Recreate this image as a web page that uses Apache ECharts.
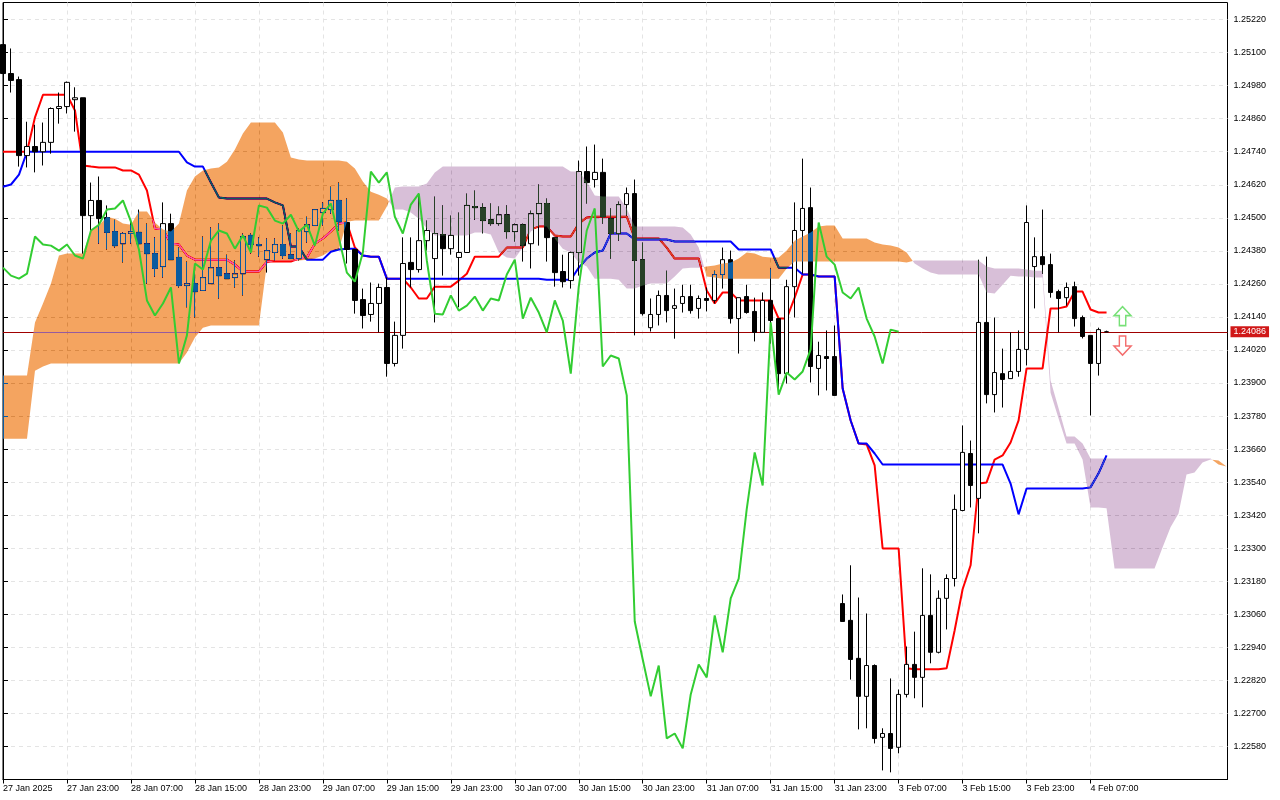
<!DOCTYPE html>
<html><head><meta charset="utf-8">
<style>html,body{margin:0;padding:0;background:#fff}#c{width:1280px;height:800px}</style>
<script src="https://cdn.jsdelivr.net/npm/echarts@6/dist/echarts.min.js"></script>
</head><body><div id="c"></div>
<script>
const timeLabels=['27 Jan 2025','27 Jan 23:00','28 Jan 07:00','28 Jan 15:00','28 Jan 23:00','29 Jan 07:00','29 Jan 15:00','29 Jan 23:00','30 Jan 07:00','30 Jan 15:00','30 Jan 23:00','31 Jan 07:00','31 Jan 15:00','31 Jan 23:00','3 Feb 07:00','3 Feb 15:00','3 Feb 23:00','4 Feb 07:00'];
const priceTicks=[1.2258,1.2270,1.2282,1.2294,1.2306,1.2318,1.2330,1.2342,1.2354,1.2366,1.2378,1.2390,1.2402,1.2414,1.2426,1.2438,1.2450,1.2462,1.2474,1.2486,1.2498,1.2510,1.2522];
const lastPrice=1.24086;
const opens=[1.25129,1.25024,1.25002,1.24726,1.24759,1.24740,1.24774,1.24897,1.24904,1.24929,
1.24936,1.24508,1.24563,1.24501,1.24450,1.24406,1.24443,1.24447,1.24406,1.24370,
1.24323,1.24479,1.24356,1.24254,1.24261,1.24236,1.24261,1.24319,1.24297,1.24283,
1.24297,1.24436,1.24403,1.24348,1.24374,1.24403,1.24366,1.24352,1.24450,1.24472,
1.24519,1.24530,1.24563,1.24483,1.24385,1.24203,1.24149,1.24189,1.24247,1.23971,
1.24073,1.24338,1.24312,1.24417,1.24352,1.24439,1.24388,1.24356,1.24374,1.24541,
1.24537,1.24493,1.24479,1.24511,1.24450,1.24475,1.24406,1.24515,1.24552,1.24428,
1.24305,1.24272,1.24374,1.24668,1.24639,1.24665,1.24497,1.24443,1.24548,1.24588,
1.24348,1.24101,1.24149,1.24218,1.24171,1.24189,1.24214,1.24171,1.24207,1.24200,
1.24294,1.24348,1.24134,1.24214,1.24160,1.24084,1.24200,1.24134,1.23934,1.24250,
1.24454,1.24537,1.23953,1.23996,1.23996,1.23099,1.23038,1.22900,1.22762,1.22874,
1.22613,1.22627,1.22577,1.22769,1.22878,1.22831,1.23056,1.22922,1.23118,1.23190,
1.23437,1.23644,1.23481,1.24120,1.23858,1.23934,1.23916,1.23942,1.24022,1.24323,
1.24359,1.24330,1.24232,1.24210,1.24250,1.24138,1.24073,1.23971,1.24086];
const closes=[1.25024,1.24999,1.24726,1.24759,1.24740,1.24774,1.24897,1.24904,1.24992,1.24936,
1.24508,1.24563,1.24497,1.24447,1.24399,1.24443,1.24450,1.24406,1.24370,1.24316,
1.24479,1.24348,1.24254,1.24261,1.24232,1.24283,1.24319,1.24290,1.24279,1.24297,
1.24432,1.24403,1.24399,1.24381,1.24403,1.24363,1.24352,1.24454,1.24475,1.24530,
1.24534,1.24563,1.24486,1.24385,1.24200,1.24145,1.24189,1.24247,1.23971,1.24073,
1.24334,1.24312,1.24417,1.24454,1.24443,1.24388,1.24436,1.24374,1.24545,1.24537,
1.24490,1.24479,1.24511,1.24450,1.24475,1.24399,1.24515,1.24552,1.24428,1.24301,
1.24268,1.24374,1.24668,1.24628,1.24665,1.24504,1.24443,1.24548,1.24588,1.24345,
1.24152,1.24149,1.24218,1.24163,1.24181,1.24214,1.24163,1.24207,1.24200,1.24294,
1.24348,1.24134,1.24210,1.24156,1.24084,1.24200,1.24127,1.23934,1.24250,1.24454,
1.24534,1.23960,1.24000,1.23989,1.23855,1.23034,1.22896,1.22762,1.22874,1.22609,
1.22627,1.22573,1.22769,1.22878,1.22831,1.23056,1.22922,1.23118,1.23190,1.23441,
1.23648,1.23528,1.24120,1.23858,1.23938,1.23913,1.23942,1.24022,1.24483,1.24359,
1.24330,1.24229,1.24207,1.24247,1.24134,1.24069,1.23971,1.24094,1.24086];
const highs=[1.25129,1.25115,1.25013,1.24849,1.24838,1.24846,1.24901,1.24955,1.24995,1.24974,
1.24936,1.24628,1.24650,1.24545,1.24493,1.24447,1.24490,1.24530,1.24479,1.24429,
1.24556,1.24515,1.24392,1.24341,1.24301,1.24432,1.24465,1.24479,1.24366,1.24345,
1.24443,1.24443,1.24429,1.24425,1.24425,1.24472,1.24443,1.24461,1.24504,1.24530,
1.24556,1.24613,1.24628,1.24570,1.24381,1.24243,1.24265,1.24261,1.24283,1.24123,
1.24429,1.24429,1.24588,1.24490,1.24577,1.24545,1.24508,1.24519,1.24588,1.24599,
1.24552,1.24552,1.24541,1.24545,1.24479,1.24479,1.24526,1.24621,1.24570,1.24428,
1.24366,1.24377,1.24708,1.24759,1.24766,1.24715,1.24534,1.24559,1.24610,1.24639,
1.24410,1.24207,1.24236,1.24308,1.24243,1.24257,1.24257,1.24218,1.24247,1.24308,
1.24392,1.24381,1.24210,1.24257,1.24210,1.24229,1.24316,1.24134,1.24275,1.24556,
1.24715,1.24610,1.24050,1.24091,1.24109,1.23132,1.23238,1.23121,1.23063,1.22878,
1.22646,1.22827,1.22787,1.22943,1.22997,1.23227,1.23205,1.23147,1.23205,1.23495,
1.23746,1.23691,1.24348,1.24359,1.24138,1.24025,1.24084,1.24091,1.24545,1.24429,
1.24530,1.24370,1.24239,1.24265,1.24268,1.24145,1.24073,1.24101,1.24090];
const lows=[1.25024,1.24955,1.24686,1.24683,1.24665,1.24690,1.24733,1.24842,1.24879,1.24813,
1.24370,1.24454,1.24406,1.24385,1.24392,1.24338,1.24406,1.24392,1.24261,1.24286,
1.24283,1.24348,1.24247,1.24175,1.24138,1.24236,1.24261,1.24207,1.24279,1.24247,
1.24218,1.24370,1.24359,1.24301,1.24345,1.24352,1.24352,1.24345,1.24410,1.24472,
1.24472,1.24515,1.24454,1.24334,1.24152,1.24098,1.24123,1.24084,1.23923,1.23960,
1.24025,1.24247,1.24301,1.24381,1.24120,1.24290,1.24366,1.24175,1.24374,1.24493,
1.24443,1.24472,1.24472,1.24425,1.24414,1.24341,1.24316,1.24399,1.24341,1.24250,
1.24247,1.24243,1.24290,1.24552,1.24610,1.24479,1.24352,1.24417,1.24508,1.24073,
1.24145,1.24087,1.24109,1.24120,1.24061,1.24156,1.24152,1.24134,1.24160,1.24189,
1.24243,1.24116,1.24007,1.24152,1.24051,1.24084,1.24043,1.23862,1.23898,1.24138,
1.24297,1.23902,1.23855,1.23873,1.23855,1.23034,1.22823,1.22642,1.22646,1.22591,
1.22493,1.22486,1.22555,1.22758,1.22755,1.22722,1.22882,1.22918,1.23005,1.23161,
1.23434,1.23448,1.23354,1.23826,1.23793,1.23811,1.23916,1.23923,1.23964,1.24171,
1.24297,1.24210,1.24084,1.24181,1.24105,1.24062,1.23782,1.23927,1.24086];
const tenkan=[1.24740,1.24740,1.24740,1.24740,1.24865,1.24947,1.24947,1.24947,1.24947,1.24890,
1.24690,1.24686,1.24683,1.24683,1.24683,1.24672,1.24672,1.24657,1.24599,1.24461,
1.24458,1.24406,1.24403,1.24363,1.24348,1.24348,1.24348,1.24348,1.24348,1.24330,
1.24305,1.24305,1.24305,1.24341,1.24341,1.24341,1.24341,1.24352,1.24356,1.24406,
1.24425,1.24450,1.24479,1.24483,1.24392,1.24363,1.24359,1.24359,1.24279,1.24279,
1.24279,1.24247,1.24207,1.24207,1.24250,1.24250,1.24250,1.24272,1.24297,1.24359,
1.24359,1.24359,1.24359,1.24392,1.24392,1.24392,1.24458,1.24468,1.24468,1.24436,
1.24432,1.24432,1.24479,1.24501,1.24504,1.24504,1.24504,1.24504,1.24504,1.24425,
1.24425,1.24425,1.24425,1.24392,1.24352,1.24352,1.24352,1.24352,1.24236,1.24189,
1.24229,1.24229,1.24200,1.24200,1.24200,1.24200,1.24200,1.24134,1.24134,1.24210,
1.24294,1.24294,1.24287,1.24287,1.24287,1.23880,1.23764,1.23680,1.23677,1.23601,
1.23299,1.23299,1.23299,1.22864,1.22860,1.22860,1.22860,1.22860,1.22864,1.23001,
1.23151,1.23238,1.23535,1.23539,1.23622,1.23637,1.23684,1.23764,1.23953,1.23953,
1.23953,1.24171,1.24171,1.24178,1.24232,1.24232,1.24167,1.24156,1.24156];
const kijun=[1.24613,1.24621,1.24657,1.24740,1.24740,1.24740,1.24740,1.24740,1.24740,1.24740,
1.24740,1.24740,1.24740,1.24740,1.24740,1.24740,1.24740,1.24740,1.24740,1.24740,
1.24740,1.24740,1.24740,1.24701,1.24686,1.24686,1.24628,1.24574,1.24570,1.24570,
1.24570,1.24570,1.24570,1.24570,1.24556,1.24545,1.24396,1.24396,1.24348,1.24348,
1.24348,1.24377,1.24385,1.24388,1.24388,1.24363,1.24359,1.24359,1.24279,1.24279,
1.24279,1.24279,1.24279,1.24279,1.24279,1.24279,1.24279,1.24279,1.24279,1.24279,
1.24279,1.24279,1.24279,1.24279,1.24279,1.24279,1.24279,1.24279,1.24275,1.24275,
1.24275,1.24275,1.24319,1.24352,1.24374,1.24381,1.24443,1.24443,1.24443,1.24421,
1.24421,1.24421,1.24421,1.24421,1.24414,1.24414,1.24414,1.24414,1.24414,1.24414,
1.24414,1.24414,1.24385,1.24385,1.24385,1.24385,1.24385,1.24319,1.24319,1.24319,
1.24294,1.24294,1.24287,1.24287,1.24287,1.23880,1.23764,1.23680,1.23680,1.23644,
1.23604,1.23604,1.23604,1.23604,1.23604,1.23604,1.23604,1.23604,1.23604,1.23604,
1.23604,1.23604,1.23604,1.23604,1.23604,1.23604,1.23535,1.23423,1.23517,1.23517,
1.23517,1.23517,1.23517,1.23517,1.23517,1.23517,1.23521,1.23572,1.23637];
const chikou=[1.24319,1.24290,1.24279,1.24297,1.24432,1.24403,1.24399,1.24381,1.24403,1.24363,
1.24352,1.24454,1.24475,1.24530,1.24534,1.24563,1.24486,1.24385,1.24200,1.24145,
1.24189,1.24247,1.23971,1.24073,1.24334,1.24312,1.24417,1.24454,1.24443,1.24388,
1.24436,1.24374,1.24545,1.24537,1.24490,1.24479,1.24511,1.24450,1.24475,1.24399,
1.24515,1.24552,1.24428,1.24301,1.24268,1.24374,1.24668,1.24628,1.24665,1.24504,
1.24443,1.24548,1.24588,1.24345,1.24152,1.24149,1.24218,1.24163,1.24181,1.24214,
1.24163,1.24207,1.24200,1.24294,1.24348,1.24134,1.24210,1.24156,1.24084,1.24200,
1.24127,1.23934,1.24250,1.24454,1.24534,1.23960,1.24000,1.23989,1.23855,1.23034,
1.22896,1.22762,1.22874,1.22609,1.22627,1.22573,1.22769,1.22878,1.22831,1.23056,
1.22922,1.23118,1.23190,1.23441,1.23648,1.23528,1.24120,1.23858,1.23938,1.23913,
1.23942,1.24022,1.24483,1.24359,1.24330,1.24229,1.24207,1.24247,1.24134,1.24069,
1.23971,1.24094,1.24086];
const spanA=[1.23927,1.23927,1.23927,1.23927,1.24120,1.24189,1.24261,1.24363,1.24370,1.24370,
1.24370,1.24454,1.24472,1.24504,1.24497,1.24479,1.24475,1.24523,1.24523,1.24483,
1.24458,1.24450,1.24479,1.24599,1.24650,1.24672,1.24679,1.24683,1.24704,1.24748,
1.24806,1.24846,1.24846,1.24846,1.24846,1.24810,1.24719,1.24712,1.24708,1.24708,
1.24708,1.24708,1.24708,1.24704,1.24679,1.24632,1.24595,1.24584,1.24570,1.24530,
1.24530,1.24519,1.24497,1.24461,1.24436,1.24436,1.24436,1.24436,1.24436,1.24447,
1.24447,1.24439,1.24374,1.24356,1.24352,1.24392,1.24450,1.24468,1.24468,1.24425,
1.24388,1.24374,1.24338,1.24323,1.24279,1.24279,1.24279,1.24275,1.24243,1.24243,
1.24254,1.24261,1.24261,1.24261,1.24287,1.24316,1.24319,1.24319,1.24323,1.24327,
1.24334,1.24338,1.24352,1.24374,1.24370,1.24359,1.24356,1.24356,1.24381,1.24417,
1.24432,1.24447,1.24468,1.24472,1.24472,1.24425,1.24425,1.24425,1.24425,1.24410,
1.24403,1.24399,1.24392,1.24374,1.24334,1.24316,1.24301,1.24294,1.24294,1.24294,
1.24294,1.24294,1.24294,1.24229,1.24225,1.24257,1.24290,1.24287,1.24287,1.24283,
1.24283,1.23865,1.23771,1.23680,1.23680,1.23622,1.23448,1.23448,1.23445,1.23226,
1.23226,1.23226,1.23226,1.23226,1.23226,1.23303,1.23376,1.23426,1.23568,1.23575,
1.23611,1.23622,1.23619,1.23597];
const spanB=[1.23698,1.23698,1.23698,1.23698,1.23945,1.23960,1.23971,1.23971,1.23971,1.23971,
1.23971,1.23971,1.23971,1.23971,1.23971,1.23971,1.23971,1.23971,1.23971,1.23971,
1.23971,1.23971,1.23971,1.24011,1.24065,1.24101,1.24109,1.24109,1.24109,1.24109,
1.24109,1.24109,1.24109,1.24334,1.24345,1.24345,1.24345,1.24345,1.24348,1.24352,
1.24363,1.24381,1.24385,1.24486,1.24490,1.24490,1.24490,1.24490,1.24541,1.24610,
1.24614,1.24614,1.24614,1.24625,1.24665,1.24686,1.24686,1.24686,1.24686,1.24686,
1.24686,1.24686,1.24686,1.24686,1.24686,1.24686,1.24686,1.24686,1.24686,1.24686,
1.24686,1.24668,1.24668,1.24632,1.24581,1.24577,1.24577,1.24577,1.24534,1.24468,
1.24468,1.24468,1.24468,1.24468,1.24468,1.24465,1.24439,1.24392,1.24287,1.24283,
1.24279,1.24279,1.24279,1.24279,1.24279,1.24279,1.24279,1.24279,1.24316,1.24341,
1.24341,1.24341,1.24341,1.24341,1.24341,1.24341,1.24341,1.24341,1.24341,1.24341,
1.24341,1.24341,1.24341,1.24338,1.24345,1.24345,1.24345,1.24345,1.24345,1.24345,
1.24345,1.24345,1.24345,1.24323,1.24316,1.24316,1.24316,1.24316,1.24312,1.24308,
1.24308,1.23909,1.23808,1.23706,1.23706,1.23680,1.23626,1.23626,1.23626,1.23626,
1.23626,1.23626,1.23626,1.23626,1.23626,1.23626,1.23626,1.23626,1.23626,1.23626,
1.23626,1.23626,1.23604,1.23597];
const arrowUp=[[140,1.24143]];
const arrowDown=[[140,1.24036]];

const chart=echarts.init(document.getElementById('c'),null,{renderer:'canvas'});
const font='"Liberation Sans"';
const labelTicks=timeLabels.map((_,k)=>k*8);
const pair=a=>a.map((v,i)=>[i,v]);
const runs=[];
(function(){let s=0;for(let i=1;i<=spanA.length;i++){if(i===spanA.length||(spanA[i]>=spanB[i])!==(spanA[s]>=spanB[s])){runs.push([s,i-1]);s=i;}}})();
function crossing(i){const d0=spanA[i]-spanB[i],d1=spanA[i+1]-spanB[i+1],t=d0/(d0-d1);return [i+t,spanA[i]+t*(spanA[i+1]-spanA[i])];}
const maxX=153.125;
chart.setOption({
 animation:false,backgroundColor:'#ffffff',
 grid:{left:2.5,top:2.5,right:52.5,bottom:20.5,show:true,borderColor:'#000',borderWidth:1,backgroundColor:'transparent'},
 xAxis:{type:'value',min:0,max:maxX,interval:4,
  axisLine:{show:true,lineStyle:{color:'#000',width:1}},
  axisTick:{show:true,customValues:labelTicks,length:4,lineStyle:{color:'#000'}},
  axisLabel:{customValues:labelTicks,align:'left',margin:5,fontFamily:font,fontSize:9,color:'#000',formatter:v=>timeLabels[Math.round(v/8)]||''},
  splitLine:{show:true,lineStyle:{color:'#e4e4e4',type:[4,4],width:1}}},
 yAxis:{type:'value',position:'right',min:1.2246,max:1.25282,interval:0.0012,
  axisLine:{show:true,lineStyle:{color:'#000',width:1}},
  axisTick:{show:true,customValues:priceTicks,length:5,lineStyle:{color:'#000'}},
  axisLabel:{customValues:priceTicks,margin:6,fontFamily:font,fontSize:9,color:'#000',formatter:v=>v.toFixed(5)},
  splitLine:{show:true,lineStyle:{color:'#e4e4e4',type:[4,4],width:1}}},
 series:[
  {type:'candlestick',name:'Candles',barWidth:5,clip:true,z:2,
   data:opens.map((o,i)=>[i,o,closes[i],lows[i],highs[i]]),
   itemStyle:{color:'#ffffff',color0:'#000000',borderColor:'#000000',borderColor0:'#000000',borderWidth:1}},
  {type:'line',name:'Tenkan',z:2,data:pair(tenkan),symbol:'none',lineStyle:{color:'#ff0000',width:2},
   markLine:{silent:true,symbol:'none',z:1,animation:false,precision:5,
    lineStyle:{color:'#a00000',width:1,type:'solid'},
    label:{show:true,position:'end',distance:3,color:'#fff',backgroundColor:'#d01818',padding:[1,3,1,3],fontFamily:font,fontSize:9,formatter:()=>lastPrice.toFixed(5)},
    data:[{yAxis:lastPrice}]}},
  {type:'line',name:'Kijun',z:2,data:pair(kijun),symbol:'none',lineStyle:{color:'#0000ff',width:2}},
  {type:'custom',name:'Kumo',z:2,coordinateSystem:'cartesian2d',blendMode:'difference',silent:true,clip:true,
   data:runs,encode:{x:0,y:1},
   renderItem:(params,api)=>{
    const [s,e]=runs[params.dataIndex];
    const upper=[],lower=[];
    for(let k=s;k<=e;k++){upper.push(api.coord([k,spanA[k]]));lower.unshift(api.coord([k,spanB[k]]));}
    const pts=[];
    if(s>0)pts.push(api.coord(crossing(s-1)));
    pts.push(...upper);
    if(e<spanA.length-1)pts.push(api.coord(crossing(e)));
    pts.push(...lower);
    const bull=spanA[s]>=spanB[s];
    return {type:'polygon',z2:1000,shape:{points:pts},style:{fill:bull?'rgb(11,91,159)':'rgb(39,64,39)'}};
   }},
  {type:'line',name:'Chikou',z:3,data:pair(chikou),symbol:'none',lineStyle:{color:'#32cd32',width:2}},
  {type:'scatter',name:'Up',z:3,data:arrowUp,symbol:'path://M8 0 L16 9 L11 9 L11 19 L5 19 L5 9 L0 9 Z',symbolSize:[17,19],
   itemStyle:{color:'#ffffff',borderColor:'#55d855',borderWidth:1.5}},
  {type:'scatter',name:'Down',z:3,data:arrowDown,symbol:'path://M5 0 L11 0 L11 10 L16 10 L8 19 L0 10 L5 10 Z',symbolSize:[17,19],
   itemStyle:{color:'#ffffff',borderColor:'#f04848',borderWidth:1.5}}
 ]
});
</script></body></html>
